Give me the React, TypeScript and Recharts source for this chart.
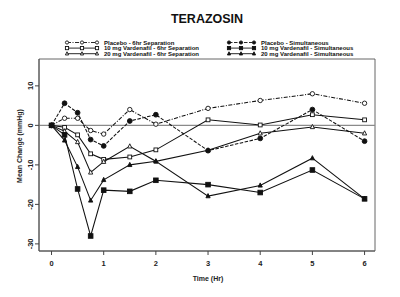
import React from 'react';
import { LineChart, Line, XAxis, YAxis, ReferenceLine, ReferenceArea, Legend } from 'recharts';

// Sampling times (hours after dosing)
const hours = [0, 0.25, 0.5, 0.75, 1, 1.5, 2, 3, 4, 5, 6];
const xTicks = [0, 1, 2, 3, 4, 5, 6];
const yTicks = [-30, -20, -10, 0, 10];

// Mean change in blood pressure (mmHg) for each treatment arm
const placeboSeparated = [0, 1.8, 1.8, -1.3, -2.2, 4.0, 0.3, 4.3, 6.3, 8.0, 5.6];
const vard10Separated = [0, -0.5, -2.4, -7.2, -8.6, -8.0, -6.2, 1.4, 0.1, 2.7, 1.4];
const vard20Separated = [0, -1.5, -4.2, -11.9, -9.2, -5.3, -9.1, -6.3, -2.0, -0.4, -2.0];
const placeboSimultaneous = [0, 5.6, 3.2, -3.6, -5.2, 1.1, 2.7, -6.4, -3.3, 4.0, -4.0];
const vard10Simultaneous = [0, -2.4, -16.1, -28.0, -16.4, -16.7, -13.9, -15.0, -17.0, -11.3, -18.6];
const vard20Simultaneous = [0, -3.8, -10.5, -19.0, -13.8, -10.0, -9.1, -17.9, -15.2, -8.3, -18.6];

const X_DOMAIN: [number, number] = [-0.24, 6.2];
const Y_DOMAIN: [number, number] = [-31.8, 16.8];

type Kind = 'circle' | 'square' | 'triangle';

interface SeriesDef {
  key: string;
  name: string;
  values: number[];
  kind: Kind;
  filled: boolean;
  dash?: string;
  size: number;
}

const series: SeriesDef[] = [
  { key: 'p6', name: 'Placebo - 6hr Separation', values: placeboSeparated, kind: 'circle', filled: false, dash: '4 1.5 1 1.5', size: 2.2 },
  { key: 'v10s', name: '10 mg Vardenafil - 6hr Separation', values: vard10Separated, kind: 'square', filled: false, size: 3.8 },
  { key: 'v20s', name: '20 mg Vardenafil - 6hr Separation', values: vard20Separated, kind: 'triangle', filled: false, size: 4.2 },
  { key: 'pS', name: 'Placebo - Simultaneous', values: placeboSimultaneous, kind: 'circle', filled: true, dash: '3.5 1.5', size: 2.4 },
  { key: 'v10m', name: '10 mg Vardenafil - Simultaneous', values: vard10Simultaneous, kind: 'square', filled: true, size: 4.6 },
  { key: 'v20m', name: '20 mg Vardenafil - Simultaneous', values: vard20Simultaneous, kind: 'triangle', filled: true, size: 4.2 },
];

const rows = hours.map((t, i) => {
  const r: Record<string, number> = { t };
  series.forEach((s) => {
    r[s.key] = s.values[i];
  });
  return r;
});

const INK = '#111';
const FONT = 'Liberation Sans, Arial, sans-serif';

function Marker({ cx, cy, kind, filled, size }: { cx: number; cy: number; kind: Kind; filled: boolean; size: number }) {
  const fill = filled ? INK : '#fff';
  if (kind === 'circle') {
    return <circle cx={cx} cy={cy} r={size} fill={fill} stroke={INK} strokeWidth={0.9} />;
  }
  if (kind === 'square') {
    return <rect x={cx - size / 2} y={cy - size / 2} width={size} height={size} fill={fill} stroke={INK} strokeWidth={0.9} />;
  }
  const h = size;
  return (
    <polygon
      points={`${cx},${cy - h * 0.6} ${cx - h / 2},${cy + h * 0.4} ${cx + h / 2},${cy + h * 0.4}`}
      fill={fill}
      stroke={INK}
      strokeWidth={0.9}
    />
  );
}

function YTick({ x, y, payload }: any) {
  return (
    <text
      x={x}
      y={y}
      transform={`rotate(-90, ${x}, ${y})`}
      textAnchor="middle"
      fontSize={7.5}
      fontWeight="bold"
      fontFamily={FONT}
      fill="#222"
    >
      {payload.value}
    </text>
  );
}

function XTick({ x, y, payload }: any) {
  return (
    <text x={x} y={y + 9} textAnchor="middle" fontSize={7.5} fontWeight="bold" fontFamily={FONT} fill="#222">
      {payload.value}
    </text>
  );
}

// Two-column legend drawn inside the top of the plot frame
function LegendBox() {
  const cols = [
    { items: series.slice(0, 3), mx: [7, 22, 37], tx: 44 },
    { items: series.slice(3), mx: [169, 181, 194], tx: 201 },
  ];
  return (
    <svg width={330} height={22} style={{ display: 'block' }}>
      {cols.map((c, ci) =>
        c.items.map((s, ri) => {
          const y = 4.5 + ri * 5.6;
          return (
            <g key={`${ci}-${ri}`}>
              <line x1={c.mx[0]} x2={c.mx[2]} y1={y} y2={y} stroke={INK} strokeWidth={0.9} strokeDasharray={s.dash} />
              {c.mx.map((mx, k) => (
                <Marker key={k} cx={mx} cy={y} kind={s.kind} filled={s.filled} size={s.kind === 'circle' ? 1.6 : 3.2} />
              ))}
              <text x={c.tx} y={y + 2.1} fontSize={6} fontWeight="bold" fontFamily={FONT} fill="#111">
                {s.name}
              </text>
            </g>
          );
        })
      )}
    </svg>
  );
}

export default function App() {
  return (
    <div style={{ position: 'absolute', left: 0, top: 0, width: 400, height: 297, background: '#fff' }}>
      <LineChart width={400} height={297} data={rows} margin={{ top: 37, right: 25, bottom: 16, left: 19 }}>
        <ReferenceArea
          x1={X_DOMAIN[0]}
          x2={X_DOMAIN[1]}
          y1={Y_DOMAIN[0]}
          y2={Y_DOMAIN[1]}
          fill="none"
          stroke="#555"
          strokeWidth={0.9}
          ifOverflow="visible"
        />
        <XAxis
          type="number"
          dataKey="t"
          domain={X_DOMAIN}
          ticks={xTicks}
          allowDataOverflow
          height={30}
          tickSize={4}
          tickLine={{ stroke: '#444' }}
          axisLine={{ stroke: '#555' }}
          tick={<XTick />}
        />
        <YAxis
          type="number"
          domain={Y_DOMAIN}
          ticks={yTicks}
          allowDataOverflow
          width={20}
          tickSize={4}
          tickLine={{ stroke: '#444' }}
          axisLine={{ stroke: '#555' }}
          tick={<YTick />}
        />
        <ReferenceLine y={0} stroke="#8a8a8a" strokeWidth={1.4} />
        <Legend
          verticalAlign="top"
          align="left"
          wrapperStyle={{ position: 'absolute', top: 38, left: 60, width: 330 }}
          content={() => <LegendBox />}
        />
        {series.map((s) => (
          <Line
            key={s.key}
            dataKey={s.key}
            name={s.name}
            type="linear"
            stroke={INK}
            strokeWidth={1.05}
            strokeDasharray={s.dash}
            isAnimationActive={false}
            dot={(p: any) => (
              <Marker key={`${s.key}-${p.index}`} cx={p.cx} cy={p.cy} kind={s.kind} filled={s.filled} size={s.size} />
            )}
            activeDot={false}
          />
        ))}
      </LineChart>
      <svg width={400} height={297} style={{ position: 'absolute', left: 0, top: 0, pointerEvents: 'none' }}>
        <text x={207} y={23} textAnchor="middle" fontSize={12.5} fontWeight="bold" fontFamily={FONT} fill="#111">
          TERAZOSIN
        </text>
        <text
          x={22}
          y={146}
          transform="rotate(-90, 22, 146)"
          textAnchor="middle"
          fontSize={7}
          fontWeight="bold"
          fontFamily={FONT}
          fill="#222"
        >
          Mean Change (mmHg)
        </text>
        <text x={208} y={280.5} textAnchor="middle" fontSize={7} fontWeight="bold" fontFamily={FONT} fill="#222">
          Time (Hr)
        </text>
      </svg>
    </div>
  );
}
